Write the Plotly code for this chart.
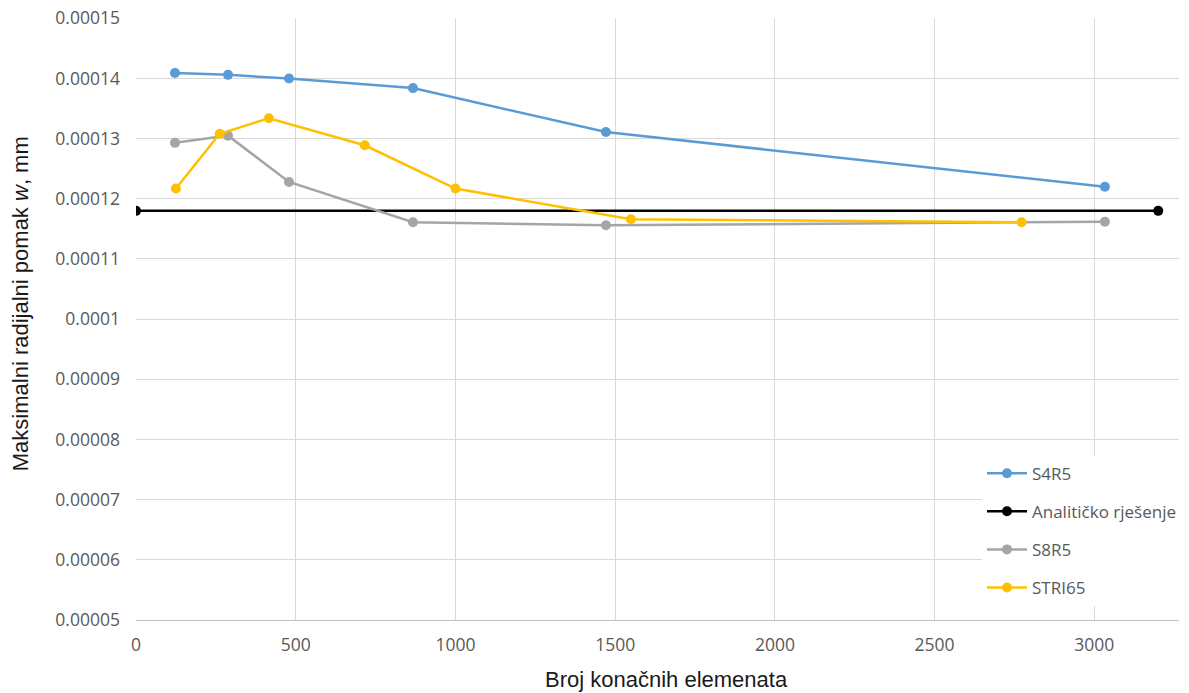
import plotly.graph_objects as go

# Data
s4r5_x = [122, 288, 479, 867, 1471, 3033]
s4r5_y = [0.0001409, 0.0001406, 0.0001400, 0.0001384, 0.0001311, 0.0001220]

anal_x = [0, 3200]
anal_y = [0.000118, 0.000118]

s8r5_x = [122, 288, 479, 867, 1471, 3033]
s8r5_y = [0.0001293, 0.0001305, 0.0001228, 0.0001161, 0.0001156, 0.0001162]

stri_x = [125, 262, 416, 716, 1000, 1549, 2772]
stri_y = [0.0001217, 0.0001308, 0.0001334, 0.0001289, 0.0001217, 0.0001166, 0.0001161]

y_ticks = [0.00005, 0.00006, 0.00007, 0.00008, 0.00009, 0.0001,
           0.00011, 0.00012, 0.00013, 0.00014, 0.00015]
y_tick_text = ["0.00005", "0.00006", "0.00007", "0.00008", "0.00009", "0.0001",
               "0.00011", "0.00012", "0.00013", "0.00014", "0.00015"]
x_ticks = [0, 500, 1000, 1500, 2000, 2500, 3000]

x_title = "Broj konačnih elemenata"
y_title = "Maksimalni radijalni pomak <i>w</i>, mm"

series = [
    ("S4R5", s4r5_x, s4r5_y, "#5B9BD5"),
    ("Analitičko rješenje", anal_x, anal_y, "#000000"),
    ("S8R5", s8r5_x, s8r5_y, "#A5A5A5"),
    ("STRI65", stri_x, stri_y, "#FFC000"),
]

fig = go.Figure()
for name, xs, ys, col in series:
    fig.add_trace(go.Scatter(
        x=xs, y=ys, name=name, mode="lines+markers",
        line=dict(color=col, width=2.5),
        marker=dict(color=col, size=10),
        legendgroup=name,
    ))

tick_font = dict(family="Open Sans, Noto Sans, sans-serif", size=17.5, color="#595959")
legend_font = dict(family="Open Sans, Noto Sans, sans-serif", size=17, color="#595959")
title_font = dict(family="Liberation Sans, Arial, sans-serif", size=22, color="#1a1a1a")

# The page body adds an 8px margin around the figure; the figure size and
# margins are chosen so that the plot area lands where the reference has it.
fig.update_layout(
    width=1173, height=685,
    margin=dict(l=128, r=0, t=10, b=73),
    paper_bgcolor="white", plot_bgcolor="white",
    font=tick_font,
    showlegend=True,
    legend=dict(
        x=0.8115, y=0.273, xanchor="left", yanchor="top",
        bgcolor="white", borderwidth=0,
        font=legend_font,
        tracegroupgap=13,
        itemwidth=40,
    ),
    xaxis=dict(
        range=[0, 3265], tickvals=x_ticks,
        showgrid=True, gridcolor="#D9D9D9", gridwidth=1,
        showline=True, linecolor="#BFBFBF", linewidth=1,
        zeroline=False, ticks="", automargin=False,
        ticklabelstandoff=9, ticklabeloverflow="allow",
        tickfont=tick_font,
    ),
    yaxis=dict(
        range=[0.00005, 0.00015005], tickvals=y_ticks, ticktext=y_tick_text,
        showgrid=True, gridcolor="#D9D9D9", gridwidth=1,
        showline=False, zeroline=False, ticks="", automargin=False,
        ticklabelstandoff=15, ticklabeloverflow="allow",
        tickfont=tick_font,
    ),
    annotations=[
        dict(text=x_title, xref="paper", yref="paper",
             x=(668 - 136) / 1045, y=-(679 - 620) / 602,
             xanchor="center", yanchor="middle", showarrow=False,
             font=title_font),
        dict(text=y_title, xref="paper", yref="paper",
             x=-(136 - 20) / 1045, y=(620 - 304) / 602,
             xanchor="center", yanchor="middle", showarrow=False,
             textangle=-90, font=title_font),
    ],
)

fig.write_html("out.html")
